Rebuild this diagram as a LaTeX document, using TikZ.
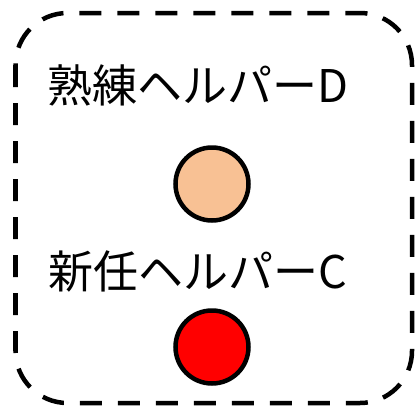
\documentclass[tikz,border=0pt]{standalone}
\usepackage{fontspec}
\newfontfamily\jpfont{Noto Sans CJK JP}
\tikzset{
  helper/.style={circle,draw=black,line width=4.5bp,minimum size=73bp,inner sep=0pt},
  helperlabel/.style={font=\jpfont\fontsize{45bp}{50bp}\selectfont,inner sep=0pt}
}
\definecolor{skilledpeach}{RGB}{248,193,148}
\begin{document}
\begin{tikzpicture}[x=1bp,y=-1bp]
\useasboundingbox (0,0) rectangle (416,408);
\path[draw,line width=4.5bp,dash pattern=on 22bp off 16bp,rounded corners=52bp] (15.5,13) rectangle (412,403);
\node[helperlabel] (labelD) at (198,85) {熟練ヘルパーD};
\node[helper,fill=skilledpeach] (helperD) at (212,184) {};
\node[helperlabel] (labelC) at (198,271) {新任ヘルパーC};
\node[helper,fill=red] (helperC) at (212,347) {};
\end{tikzpicture}
\end{document}
